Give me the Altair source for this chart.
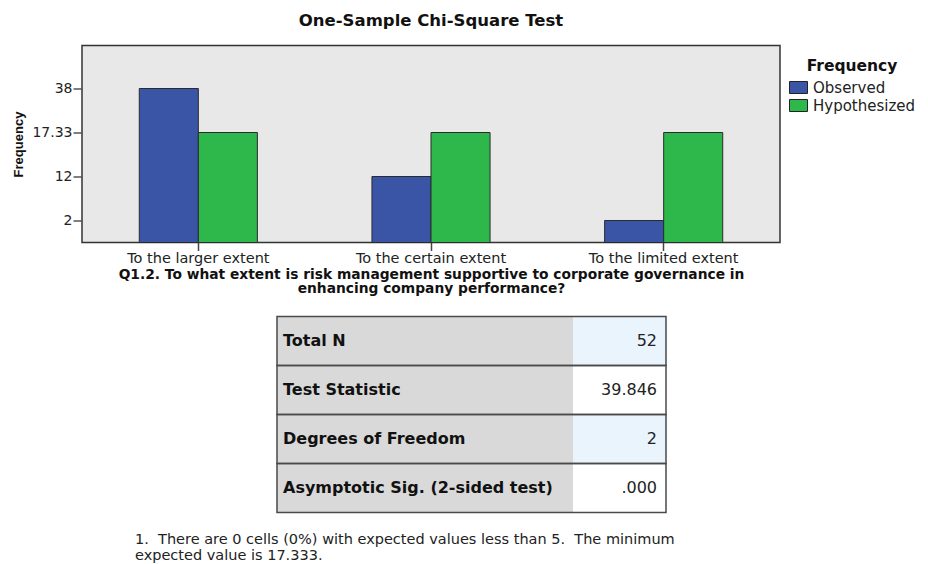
import altair as alt
import pandas as pd

# ---------------- data ----------------
title_text = "One-Sample Chi-Square Test"
categories = ["To the larger extent", "To the certain extent", "To the limited extent"]
series = ["Observed", "Hypothesized"]
observed = [38, 12, 2]
hypothesized = [17.33, 17.33, 17.33]
y_ticks = [2, 12, 17.33, 38]
x_title = ["Q1.2. To what extent is risk management supportive to corporate governance in",
           "enhancing company performance?"]

table_labels = ["Total N", "Test Statistic", "Degrees of Freedom", "Asymptotic Sig. (2-sided test)"]
table_values = ["52", "39.846", "2", ".000"]

footnote_lines = ["1.\u00a0 There are 0 cells (0%) with expected values less than 5.\u00a0 The minimum",
                  "expected value is 17.333."]

# ---------------- layout / style ----------------
W, H = 698, 197
FONT = "DejaVu Sans"
BLUE, GREEN = "#3b55a6", "#2eb74a"
SPLIT = 0.761

bars_df = pd.DataFrame({
    "category": [c for c in categories for _ in series],
    "series": series * len(categories),
    "value": [v for pair in zip(observed, hypothesized) for v in pair],
})

bars = alt.Chart(bars_df).mark_bar(stroke="#2b2b2b", strokeWidth=1).encode(
    x=alt.X("category:N", sort=categories,
            scale=alt.Scale(paddingInner=0, paddingOuter=0),
            axis=alt.Axis(title=x_title, labelAngle=0, domain=False, tickSize=8,
                          tickColor="#444", tickWidth=1.5, labelFont=FONT, labelFontSize=14.5,
                          labelColor="#222", labelPadding=1, titleFont=FONT,
                          titleFontWeight="bold", titleFontSize=13.8, titleLineHeight=14,
                          titlePadding=2, titleColor="#111")),
    xOffset=alt.XOffset("series:N", sort=series,
                        scale=alt.Scale(paddingOuter=0.97, paddingInner=0)),
    y=alt.Y("value:Q",
            scale=alt.Scale(domain=[0, 2, 12, 17.33, 38, 50],
                            range=[197, 175, 131, 87, 43, 0], nice=False, zero=False),
            axis=alt.Axis(values=y_ticks, format=".2~f", grid=False, domain=False,
                          tickSize=9, tickColor="#555", tickWidth=1.5, labelFont=FONT,
                          labelFontSize=14, labelColor="#222", labelPadding=1,
                          title="Frequency", titleFont="Liberation Sans", titleFontSize=13,
                          titleFontWeight="bold", titlePadding=6, titleColor="#111")),
    color=alt.Color("series:N", sort=series,
                    scale=alt.Scale(domain=series, range=[BLUE, GREEN]),
                    legend=alt.Legend(title="Frequency", orient="none", legendX=707, legendY=13,
                                      titleAnchor="middle", titleFont=FONT, titleFontSize=15.5,
                                      titleFontWeight="bold", titleColor="#111", titlePadding=4,
                                      labelFont=FONT, labelFontSize=15, labelColor="#222",
                                      labelOffset=5, rowPadding=0,
                                      symbolType="M-1,-0.667H1V0.667H-1Z", symbolSize=324,
                                      symbolStrokeColor="#222", symbolStrokeWidth=1,
                                      symbolOpacity=1)),
)

# table
rows = []
for i, (lab, val) in enumerate(zip(table_labels, table_values)):
    rows.append({"row": i, "kind": "label", "x0": 0.0, "x1": SPLIT, "text": lab})
    rows.append({"row": i, "kind": "tint" if i % 2 == 0 else "plain", "x0": SPLIT, "x1": 1.0, "text": val})
cells_df = pd.DataFrame(rows)
rows_df = pd.DataFrame({"row": list(range(len(table_labels))), "x0": 0.0, "x1": 1.0})

tx = alt.Scale(domain=[0, 1], range=[195, 584], nice=False, zero=False)
ty = alt.Scale(type="band", domain=list(range(len(table_labels))), range=[271, 467],
               paddingInner=0, paddingOuter=0)

fill = alt.Chart(cells_df).mark_rect().encode(
    x=alt.X("x0:Q", scale=tx, axis=None), x2="x1:Q",
    y=alt.Y("row:O", scale=ty, axis=None),
    color=alt.Color("kind:N", scale=alt.Scale(domain=["label", "tint", "plain"],
                                              range=["#d9d9d9", "#eaf4fd", "#ffffff"]),
                    legend=None),
)
border = alt.Chart(rows_df).mark_rect(fillOpacity=0, stroke="#4a4a4a", strokeWidth=1.5).encode(
    x=alt.X("x0:Q", scale=tx, axis=None), x2="x1:Q",
    y=alt.Y("row:O", scale=ty, axis=None),
)
lab_text = alt.Chart(cells_df[cells_df.kind == "label"]).mark_text(
    align="left", baseline="middle", dx=6, font=FONT, fontSize=16, fontWeight="bold", color="#111"
).encode(x=alt.X("x0:Q", scale=tx, axis=None), y=alt.Y("row:O", scale=ty, axis=None), text="text:N")
val_text = alt.Chart(cells_df[cells_df.kind != "label"]).mark_text(
    align="right", baseline="middle", dx=-9, font=FONT, fontSize=16, color="#222"
).encode(x=alt.X("x1:Q", scale=tx, axis=None), y=alt.Y("row:O", scale=ty, axis=None), text="text:N")
table = alt.layer(fill, border, lab_text, val_text)

# footnote
foot_df = pd.DataFrame({"line": [0, 1], "text": footnote_lines, "x": [0, 0]})
foot = alt.Chart(foot_df).mark_text(align="left", baseline="middle", font=FONT, fontSize=14.5,
                                    color="#222").encode(
    x=alt.X("x:Q", scale=alt.Scale(domain=[0, 1], range=[53, 698], nice=False, zero=False), axis=None),
    y=alt.Y("line:O", scale=alt.Scale(type="point", range=[494, 510], padding=0), axis=None),
    text="text:N",
)

chart = alt.layer(bars, table, foot).resolve_scale(
    x="independent", y="independent", color="independent"
).properties(
    width=W, height=H,
    title=alt.Title(title_text, font=FONT, fontSize=16.5, fontWeight="bold", color="#111",
                    anchor="middle", offset=16),
    padding={"left": 4, "top": 4.5, "right": 0, "bottom": 0},
    background="white",
).configure_view(fill="#e8e8e8", stroke="#333", strokeWidth=1.5)

chart.save("out.html", embed_options={"renderer": "svg", "actions": False})
